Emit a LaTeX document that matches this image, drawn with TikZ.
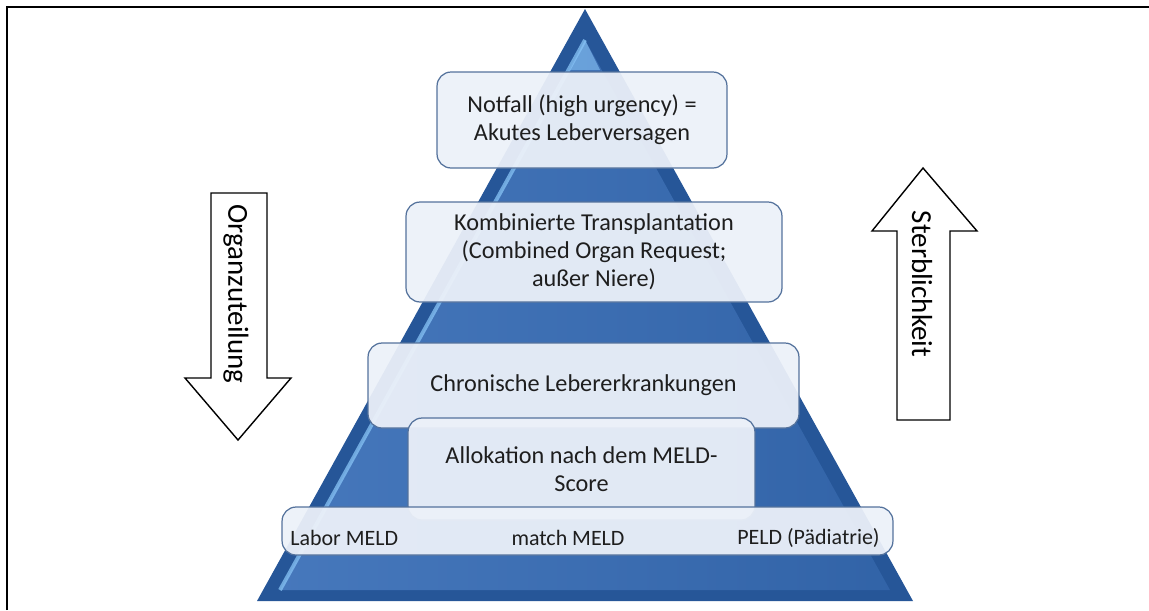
\documentclass[tikz,border=0pt]{standalone}
\usepackage{fontspec}
\setmainfont{Carlito}
\usepackage{xcolor}
\usetikzlibrary{positioning}

\definecolor{pyrdark}{RGB}{38,86,152}
\definecolor{pyrmid}{RGB}{54,108,182}
\definecolor{pyrlight}{RGB}{135,195,245}
\definecolor{boxfill}{RGB}{236,241,249}
\definecolor{boxline}{RGB}{84,114,156}
\definecolor{txtgray}{RGB}{30,30,30}

\begin{document}
\begin{tikzpicture}[
    x=0.02cm,
    y=-0.02cm,
    level/.style={
        rectangle,
        draw=boxline,
        line width=0.7pt,
        fill=boxfill,
        fill opacity=0.94,
        text opacity=1,
        text=txtgray,
        align=center,
        rounded corners=8pt,
        inner sep=0pt,
        font=\fontsize{13.8}{15.8}\selectfont
    },
    barlabel/.style={
        text=txtgray,
        inner sep=0pt,
        font=\fontsize{12.5}{15}\selectfont
    },
    hollow/.style={
        draw=black,
        line width=0.8pt,
        fill=white
    },
    arrowtext/.style={
        rotate=-90,
        inner sep=0pt,
        font=\fontsize{16.5}{18}\selectfont
    }
]
\useasboundingbox (0,0) rectangle (1149,610);

% Frame
\draw [line width=1.4pt] (7,610) -- (7,7) -- (1149,7);

% Pyramid
\fill [pyrdark] (585,9) -- (913,601) -- (257,601) -- cycle;
\shade [left color=pyrmid!92!white, right color=pyrmid!92!black]
    (585,40) -- (890,590) -- (280,590) -- cycle;
\draw [pyrlight, line width=2.2pt, opacity=0.75] (585,40) -- (280,590);
\fill [pyrlight, opacity=0.6] (585,40) -- (600,70) -- (570,70) -- cycle;

% Nodes
\node [level, minimum width=5.8cm, minimum height=1.92cm] (notfall) at (582,120)
    {Notfall (high urgency) =\\Akutes Leberversagen};
\node [level, minimum width=7.52cm, minimum height=2.0cm] (kombi) at (594,252)
    {Kombinierte Transplantation\\(Combined Organ Request;\\außer Niere)};
\node [level, minimum width=8.62cm, minimum height=1.7cm] (chronisch) at (583.5,385.5)
    {Chronische Lebererkrankungen};
\node [level, minimum width=6.94cm, minimum height=2.04cm] (meld) at (581.5,469)
    {Allokation nach dem MELD-\\Score};
\node [level, minimum width=12.22cm, minimum height=0.96cm] (scorebar) at (587.5,531) {};
\node [barlabel, anchor=west] (labor) at (290,538) {Labor MELD};
\node [barlabel] (match) at (568,538) {match MELD};
\node [barlabel, anchor=east] (peld) at (880,538) {PELD (Pädiatrie)};

% Arrows
\draw [hollow] (211,193) -- (267,193) -- (267,378) -- (291,378) -- (238,440)
    -- (185,378) -- (211,378) -- cycle;
\node [arrowtext] (organ) at (236,294) {Organzuteilung};
\draw [hollow] (923,168) -- (977,231) -- (950,231) -- (950,420) -- (897,420)
    -- (897,231) -- (872,231) -- cycle;
\node [arrowtext] (sterb) at (922,284) {Sterblichkeit};

\end{tikzpicture}
\end{document}
